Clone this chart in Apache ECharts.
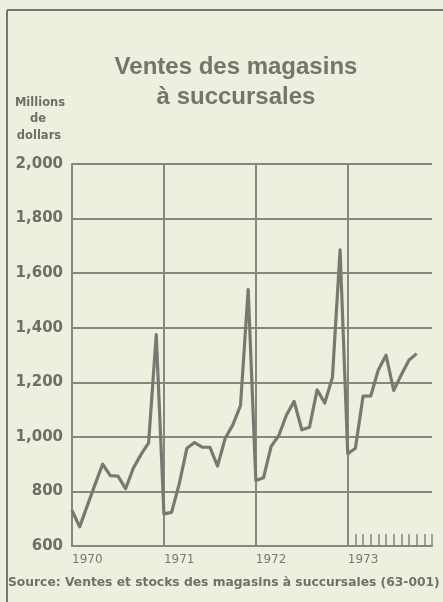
<!DOCTYPE html>
<html>
<head>
<meta charset="utf-8">
<script src="https://cdn.jsdelivr.net/npm/echarts@6/dist/echarts.min.js"></script>
<style>
html,body{margin:0;padding:0;background:#edefdf;}
#chart{width:443px;height:602px;}
</style>
</head>
<body>
<div id="chart"></div>
<script>
// Data (millions of dollars), monthly Jan 1970 - Oct 1973
const years = ['1970', '1971', '1972', '1973'];
const sales1970 = [730, 670, 748, 825, 900, 858, 856, 810, 885, 935, 978, 1375];
const sales1971 = [718, 723, 828, 958, 979, 962, 962, 893, 995, 1044, 1115, 1540];
const sales1972 = [840, 850, 965, 1005, 1080, 1130, 1026, 1035, 1172, 1124, 1218, 1685];
const sales1973 = [938, 958, 1149, 1150, 1246, 1299, 1170, 1228, 1282, 1305];
const yTicks = [600, 800, 1000, 1200, 1400, 1600, 1800, 2000];

const months = [];
years.forEach(y => { for (let m = 1; m <= 12; m++) months.push(y + '-' + (m < 10 ? '0' + m : m)); });
const sales = sales1970.concat(sales1971, sales1972, sales1973);

const ink = '#6c7066';
const gridCol = '#85887d';
const small = {fontFamily: 'DejaVu Sans', fontWeight: 'bold', fontSize: 11.5, fill: ink, textAlign: 'center', textVerticalAlign: 'middle'};
const chart = echarts.init(document.getElementById('chart'), null, {renderer: 'canvas'});
chart.setOption({
  backgroundColor: '#edefdf',
  animation: false,
  title: {
    text: 'Ventes des magasins\nà succursales',
    left: 231, top: 47, textAlign: 'center',
    textStyle: {fontFamily: 'Liberation Sans', fontSize: 24, fontWeight: 'bold', color: '#727769', lineHeight: 30}
  },
  graphic: [
    {type: 'line', shape: {x1: 7, y1: 10, x2: 7, y2: 602}, style: {stroke: '#75786f', lineWidth: 2}},
    {type: 'line', shape: {x1: 7, y1: 10, x2: 443, y2: 10}, style: {stroke: '#75786f', lineWidth: 2}},
    {type: 'text', x: 40, y: 103, style: Object.assign({text: 'Millions'}, small)},
    {type: 'text', x: 38, y: 119, style: Object.assign({text: 'de'}, small)},
    {type: 'text', x: 39, y: 136, style: Object.assign({text: 'dollars'}, small)},
    {type: 'text', x: 8, y: 583, style: {text: 'Source: Ventes et stocks des magasins à succursales (63-001)', textVerticalAlign: 'middle', fontFamily: 'DejaVu Sans', fontWeight: 'bold', fontSize: 12.3, fill: '#6f7366'}}
  ],
  grid: {left: 72, right: 11, top: 164, bottom: 56, containLabel: false},
  xAxis: {
    type: 'category',
    data: months,
    boundaryGap: false,
    axisLine: {show: true, lineStyle: {color: gridCol, width: 2}},
    axisTick: {show: true, inside: true, length: 12, interval: (i) => i >= 36, lineStyle: {color: gridCol, width: 1.5}},
    axisLabel: {
      interval: (i) => i % 12 === 0,
      formatter: (v) => v.slice(0, 4),
      align: 'left', margin: 8,
      fontFamily: 'DejaVu Sans', fontSize: 12, color: '#777b6f'
    },
    splitLine: {show: true, interval: (i) => i % 12 === 0 && i > 0, lineStyle: {color: gridCol, width: 2}}
  },
  yAxis: {
    type: 'value',
    min: yTicks[0], max: yTicks[yTicks.length - 1], interval: 200,
    axisLine: {show: true, lineStyle: {color: gridCol, width: 2}},
    axisTick: {show: false},
    axisLabel: {
      margin: 9,
      formatter: (v) => v >= 1000 ? Math.floor(v / 1000) + ',' + String(v % 1000).padStart(3, '0') : String(v),
      fontFamily: 'DejaVu Sans', fontSize: 15, fontWeight: 'bold', color: ink
    },
    splitLine: {show: true, lineStyle: {color: gridCol, width: 2}}
  },
  series: [{
    type: 'line',
    data: sales,
    symbol: 'none',
    lineStyle: {color: '#777a70', width: 3.2, join: 'round'}
  }]
});
</script>
</body>
</html>
